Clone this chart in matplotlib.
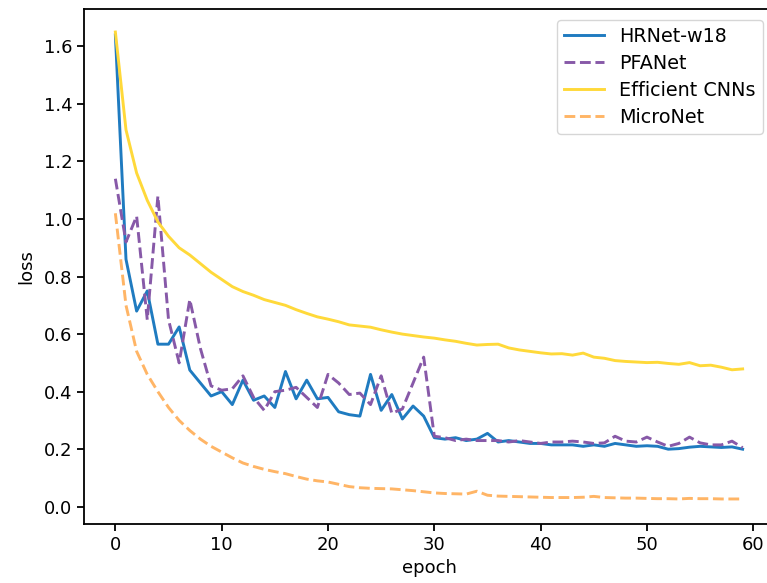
import matplotlib
matplotlib.use("Agg")
import matplotlib.pyplot as plt

epochs = list(range(60))

hrnet = [1.64, 0.86, 0.68, 0.75, 0.565, 0.565, 0.625, 0.475, 0.43, 0.385,
         0.40, 0.355, 0.44, 0.37, 0.385, 0.345, 0.47, 0.375, 0.44, 0.375,
         0.38, 0.33, 0.32, 0.315, 0.46, 0.335, 0.39, 0.305, 0.35, 0.315,
         0.24, 0.235, 0.24, 0.23, 0.235, 0.255, 0.225, 0.23, 0.225, 0.22,
         0.22, 0.215, 0.215, 0.215, 0.21, 0.215, 0.21, 0.22, 0.215, 0.21,
         0.212, 0.21, 0.20, 0.202, 0.207, 0.21, 0.208, 0.206, 0.208, 0.20]

pfanet = [1.14, 0.92, 1.01, 0.65, 1.08, 0.65, 0.50, 0.72, 0.55, 0.42,
          0.405, 0.41, 0.455, 0.38, 0.335, 0.40, 0.405, 0.415, 0.38, 0.345,
          0.46, 0.43, 0.39, 0.395, 0.355, 0.455, 0.325, 0.34, 0.43, 0.52,
          0.245, 0.24, 0.23, 0.235, 0.23, 0.23, 0.23, 0.225, 0.23, 0.225,
          0.22, 0.225, 0.225, 0.228, 0.225, 0.22, 0.222, 0.245, 0.228, 0.225,
          0.242, 0.225, 0.21, 0.22, 0.242, 0.222, 0.215, 0.215, 0.228, 0.205]

efficient = [1.65, 1.31, 1.16, 1.065, 0.99, 0.94, 0.90, 0.875, 0.845, 0.815,
             0.79, 0.765, 0.748, 0.735, 0.72, 0.71, 0.70, 0.685, 0.672, 0.66,
             0.652, 0.643, 0.632, 0.628, 0.624, 0.615, 0.607, 0.60, 0.595, 0.59,
             0.586, 0.58, 0.575, 0.568, 0.562, 0.564, 0.565, 0.552, 0.545, 0.54,
             0.535, 0.531, 0.532, 0.527, 0.534, 0.52, 0.516, 0.508, 0.505, 0.503,
             0.501, 0.502, 0.498, 0.495, 0.501, 0.49, 0.492, 0.485, 0.476, 0.479]

micronet = [1.02, 0.70, 0.54, 0.46, 0.40, 0.345, 0.30, 0.265, 0.235, 0.21,
            0.19, 0.17, 0.152, 0.14, 0.13, 0.122, 0.115, 0.105, 0.096, 0.09,
            0.086, 0.078, 0.07, 0.066, 0.064, 0.063, 0.062, 0.059, 0.056, 0.052,
            0.048, 0.046, 0.045, 0.044, 0.054, 0.04, 0.037, 0.036, 0.035, 0.034,
            0.033, 0.032, 0.032, 0.032, 0.033, 0.036, 0.032, 0.031, 0.03, 0.03,
            0.029, 0.028, 0.028, 0.027, 0.029, 0.028, 0.028, 0.027, 0.027, 0.027]

labels = ["HRNet-w18", "PFANet", "Efficient CNNs", "MicroNet"]

fig = plt.figure(figsize=(7.67, 5.83), dpi=100)
ax = fig.add_axes([84 / 767, 59 / 583, 690 / 767, 515 / 583])

lw = 2.1
ax.plot(epochs, hrnet, color="#1f7bc0", lw=lw, label=labels[0])
ax.plot(epochs, pfanet, color="#8759a8", lw=lw, ls="--", dashes=(3.7, 1.6), label=labels[1])
ax.plot(epochs, efficient, color="#ffd93a", lw=lw, label=labels[2])
ax.plot(epochs, micronet, color="#ffb566", lw=lw, ls="--", dashes=(3.7, 1.6), label=labels[3])

ax.set_xlim(-2.95, 61.95)
ax.set_ylim(-0.06, 1.73)
ax.set_xticks([0, 10, 20, 30, 40, 50, 60])
ax.set_yticks([0.0, 0.2, 0.4, 0.6, 0.8, 1.0, 1.2, 1.4, 1.6])
ax.tick_params(labelsize=13, width=1.3, length=5)
for s in ax.spines.values():
    s.set_linewidth(1.3)
ax.set_xlabel("epoch", fontsize=13, labelpad=4)
ax.set_ylabel("loss", fontsize=13, labelpad=6)

leg = ax.legend(loc="upper left", bbox_to_anchor=(557 / 767, 1 - 20 / 583),
                bbox_transform=fig.transFigure, borderaxespad=0,
                fontsize=13.8, frameon=True, handlelength=2.1,
                handletextpad=0.8, borderpad=0.35, labelspacing=0.42)
leg.get_frame().set_linewidth(1.0)

fig.savefig("out.png", dpi=100)
